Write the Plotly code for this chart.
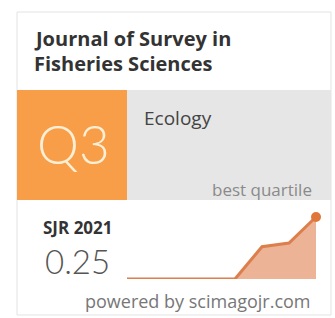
import plotly.graph_objects as go

# ---- data ----
years = [2014, 2015, 2016, 2017, 2018, 2019, 2020, 2021]
sjr_values = [0.0, 0.0, 0.0, 0.0, 0.0, 0.13, 0.145, 0.25]
journal_lines = ["Journal of Survey in", "Fisheries Sciences"]
category = "Ecology"
quartile = "Q3"
sjr_label = "SJR 2021"
sjr_current = "0.25"
footer = "powered by scimagojr.com"

W, H = 335, 318


def px(x):
    return x / W


def py(y):
    return 1 - y / H


fig = go.Figure()

fig.add_trace(go.Scatter(
    x=years, y=sjr_values, mode="lines",
    line=dict(color="#dc7f4c", width=3),
    fill="tozeroy", fillcolor="rgba(230,150,110,0.72)",
    hoverinfo="skip", cliponaxis=False,
))
fig.add_trace(go.Scatter(
    x=[years[-1]], y=[sjr_values[-1]], mode="markers",
    marker=dict(color="#e0773a", size=10),
    hoverinfo="skip", cliponaxis=False,
))

shapes = [
    # outer box
    dict(type="rect", xref="paper", yref="paper", x0=px(17), x1=px(331), y0=py(315), y1=py(12),
         line=dict(color="#e3e3e3", width=1), fillcolor="white", layer="below"),
    # orange quartile box
    dict(type="rect", xref="paper", yref="paper", x0=px(17), x1=px(127), y0=py(200), y1=py(90),
         line=dict(width=0), fillcolor="#f99e48", layer="below"),
    # gray category box
    dict(type="rect", xref="paper", yref="paper", x0=px(127), x1=px(331), y0=py(200), y1=py(90),
         line=dict(width=0), fillcolor="#e6e6e6", layer="below"),
]

ann = []
ann.append(dict(text=journal_lines[0], x=px(32), y=py(39), xanchor="left", yanchor="middle",
                font=dict(family="Open Sans", size=20, color="#333333", weight="bold")))
ann.append(dict(text=journal_lines[1], x=px(32), y=py(64), xanchor="left", yanchor="middle",
                font=dict(family="Open Sans", size=20, color="#333333", weight="bold")))
ann.append(dict(text=quartile, x=px(73), y=py(143), xanchor="center", yanchor="middle",
                font=dict(family="Lato", size=53, color="#fdefd6", weight=300)))
ann.append(dict(text=category, x=px(142), y=py(118), xanchor="left", yanchor="middle",
                font=dict(family="Open Sans", size=19, color="#444444")))
ann.append(dict(text="best quartile", x=px(314), y=py(189), xanchor="right", yanchor="middle",
                font=dict(family="Open Sans", size=17, color="#8a8a8a")))
ann.append(dict(text=sjr_label, x=px(41), y=py(228), xanchor="left", yanchor="middle",
                font=dict(family="Open Sans", size=17, color="#333333", weight="bold")))
ann.append(dict(text=sjr_current, x=px(43), y=py(261), xanchor="left", yanchor="middle",
                font=dict(family="Lato", size=33, color="#555555", weight=300)))
ann.append(dict(text=footer, x=px(313), y=py(301), xanchor="right", yanchor="middle",
                font=dict(family="Open Sans", size=18, color="#777777")))
for a in ann:
    a.update(xref="paper", yref="paper", showarrow=False)

fig.update_layout(
    width=W, height=H, margin=dict(l=0, r=0, t=0, b=0),
    paper_bgcolor="white", plot_bgcolor="rgba(0,0,0,0)",
    showlegend=False, shapes=shapes, annotations=ann,
    xaxis=dict(domain=[px(127), px(316)], range=[years[0], years[-1]], visible=False, fixedrange=True),
    yaxis=dict(domain=[py(279), py(217)], range=[0, 0.25], visible=False, fixedrange=True),
)

fig.write_html("out.html", config={"displayModeBar": False},
               post_script="document.body.style.margin='0';document.body.style.overflow='hidden';")
